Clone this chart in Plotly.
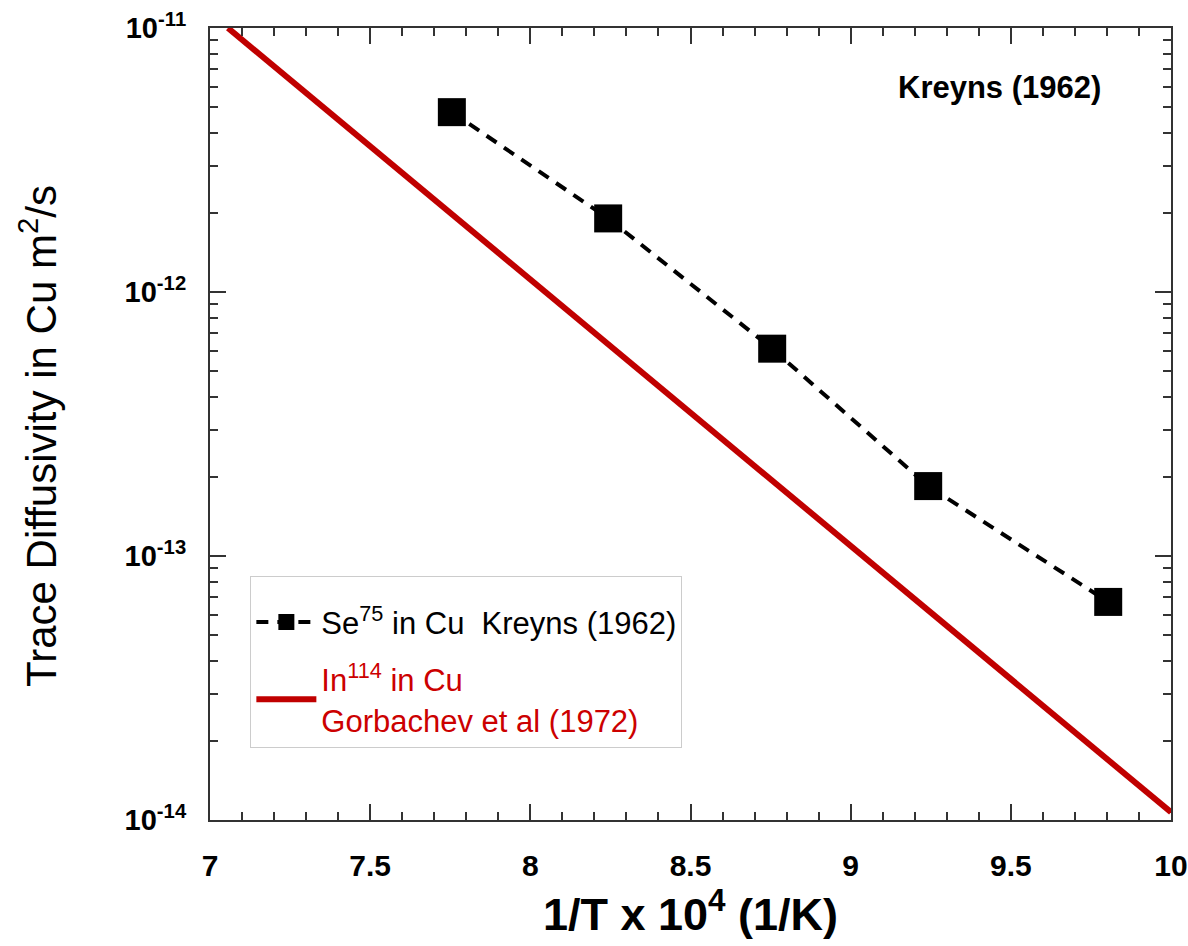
import plotly.graph_objects as go

# Data
se_x = [7.755, 8.243, 8.755, 9.242, 9.804]
se_y = [4.8e-12, 1.9e-12, 6.1e-13, 1.84e-13, 6.7e-14]
in_x = [7.056, 10.0]
in_y = [1.0e-11, 1.07e-14]

x_ticks = [7, 7.5, 8, 8.5, 9, 9.5, 10]
x_ticktext = ["7", "7.5", "8", "8.5", "9", "9.5", "10"]
y_ticks = [1e-11, 1e-12, 1e-13, 1e-14]
y_exponents = ["-11", "-12", "-13", "-14"]
y_minor = [m * 10.0 ** e for e in (-14, -13, -12) for m in range(2, 10)]

FONT = "Arial, Liberation Sans, sans-serif"

fig = go.Figure()
fig.add_trace(go.Scatter(
    x=se_x, y=se_y, mode="lines+markers",
    name="Se<sup>75</sup> in Cu  Kreyns (1962)", legendgroup="se",
    line=dict(color="black", width=4, dash="12px,9px"),
    marker=dict(symbol="square", size=28, color="black"),
))
fig.add_trace(go.Scatter(
    x=in_x, y=in_y, mode="lines",
    name="<span style='color:#CC0000'>In<sup>114</sup> in Cu<br>Gorbachev et al (1972)</span>",
    legendgroup="in",
    line=dict(color="#C00000", width=6),
))

fig.add_annotation(x=9.466, y=-11.227, xref="x", yref="y", text="<b>Kreyns (1962)</b>",
                   showarrow=False, font=dict(size=31, color="black", family=FONT))

# y-axis title
fig.add_annotation(x=0, y=0.485, xref="paper", yref="paper", xshift=-172,
                   text="Trace Diffusivity in Cu m<sup>2</sup>/s", textangle=-90,
                   showarrow=False, xanchor="center", yanchor="middle",
                   font=dict(size=42, family=FONT, color="black"))

fig.update_xaxes(
    range=[7, 10], tickvals=x_ticks, ticktext=["<b>%s</b>" % t for t in x_ticktext],
    ticks="inside", ticklen=16, tickwidth=1.5, tickcolor="#333",
    minor=dict(dtick=0.1, tick0=7, ticks="inside", ticklen=8, tickwidth=1.5, tickcolor="#333"),
    showline=True, linecolor="#333", linewidth=2, mirror="ticks",
    showgrid=False, zeroline=False, tickfont=dict(family=FONT, size=30, color="black"),
    ticklabelstandoff=18, automargin=False,
    title=dict(text="<b>1/T x 10<sup>4</sup> (1/K)</b>", font=dict(size=45, family=FONT, color="black"), standoff=8),
)
fig.update_yaxes(
    type="log", range=[-14, -11], tickvals=y_ticks,
    ticktext=["<b>10<sup>%s</sup></b>" % e for e in y_exponents],
    ticks="inside", ticklen=16, tickwidth=1.5, tickcolor="#333",
    minor=dict(tickvals=y_minor, ticks="inside", ticklen=8, tickwidth=1.5, tickcolor="#333"),
    showline=True, linecolor="#333", linewidth=2, mirror="ticks",
    showgrid=False, zeroline=False, tickfont=dict(family=FONT, size=29, color="black"),
    ticklabelstandoff=16, automargin=False,
)

fig.update_layout(
    width=1188, height=946,
    margin=dict(l=210, r=17, t=28, b=126, autoexpand=False),
    paper_bgcolor="white", plot_bgcolor="white",
    showlegend=True,
    legend=dict(x=0.042, y=0.308, xanchor="left", yanchor="top",
                bgcolor="white", bordercolor="#CCCCCC", borderwidth=1,
                font=dict(size=31, family=FONT, color="black"),
                title=dict(text="&nbsp;", font=dict(size=14)),
                itemwidth=60, tracegroupgap=14),
)

fig.write_html("out.html")
